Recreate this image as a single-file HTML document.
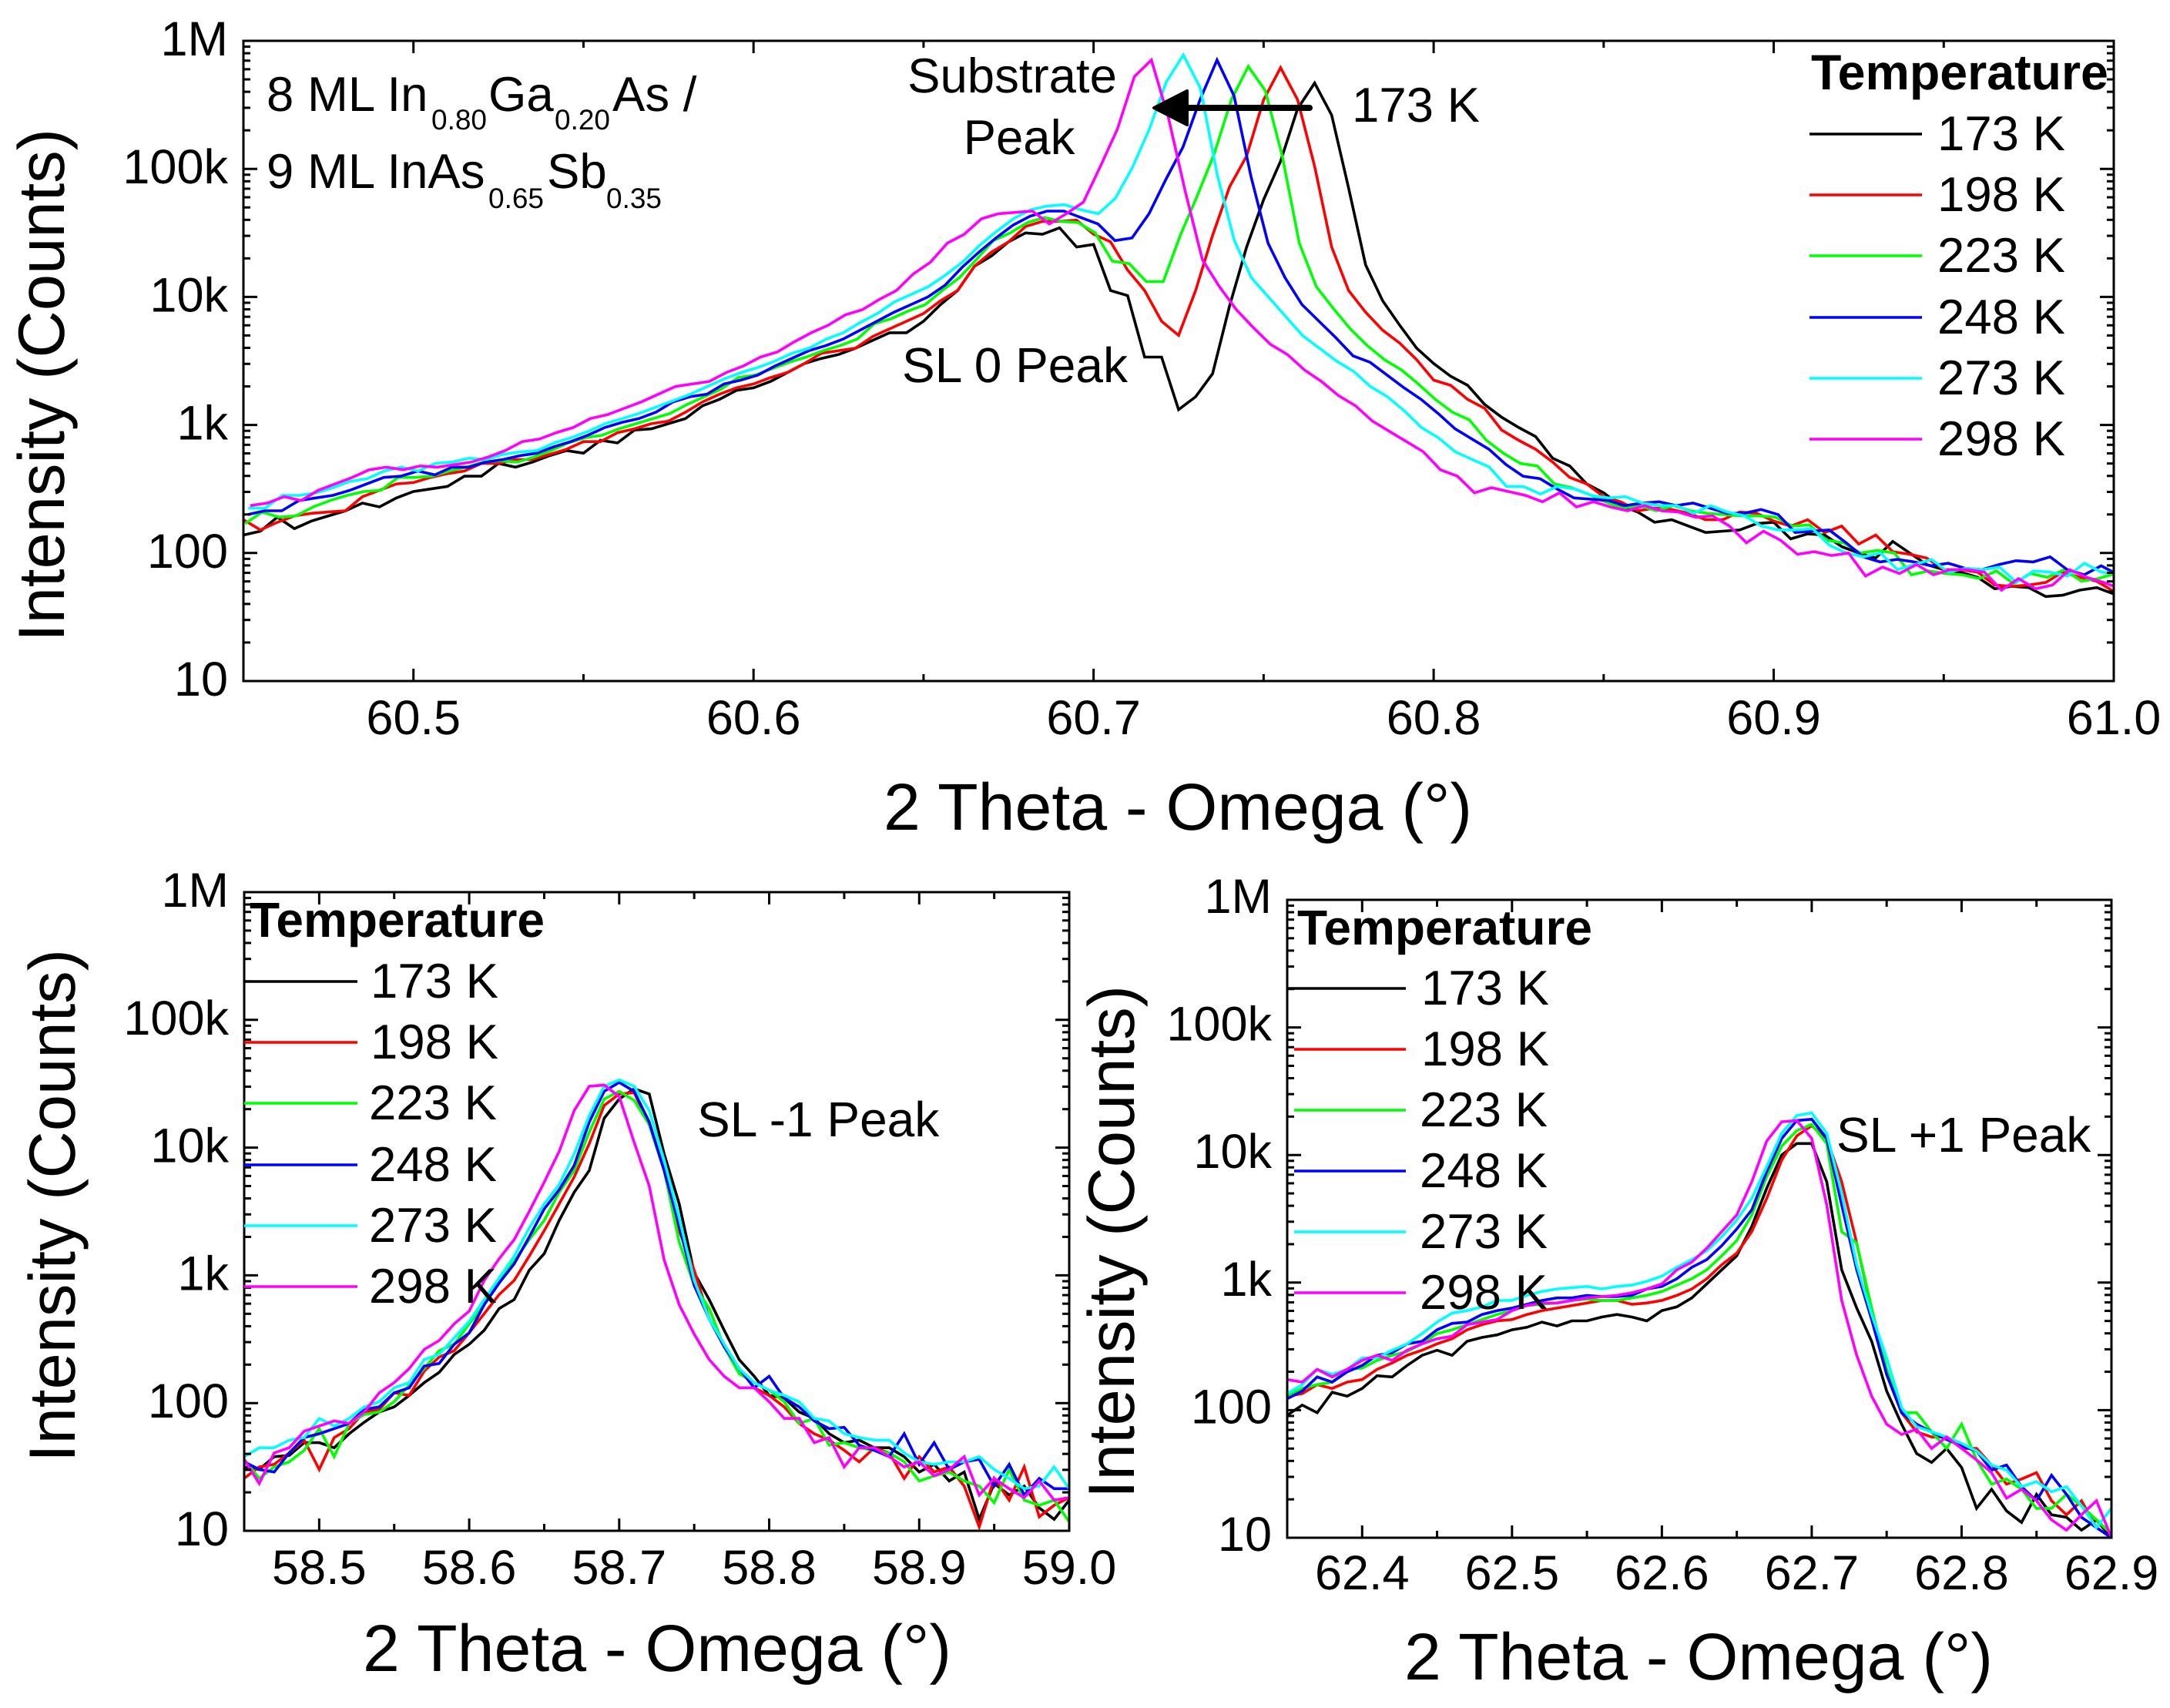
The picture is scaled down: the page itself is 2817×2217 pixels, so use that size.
<!DOCTYPE html>
<html>
<head>
<meta charset="utf-8">
<title>XRD temperature series</title>
<style>
html,body{margin:0;padding:0;background:#fff;}
svg{display:block;}
text{font-family:"Liberation Sans",Arial,sans-serif;fill:#000;text-rendering:geometricPrecision;}
.tick{font-size:63px;}
.title{font-size:86px;}
.ytitle{font-size:85px;}
.note{font-size:63.5px;}
.sub{font-size:37px;}
.legend-head{font-size:64.5px;font-weight:bold;}
</style>
</head>
<body>
<svg id="figure" xmlns="http://www.w3.org/2000/svg" width="2817" height="2217" viewBox="0 0 2817 2217">
<rect width="2817" height="2217" fill="#fff"/>
<defs>
<clipPath id="clip-top"><rect x="316" y="53" width="2428" height="831"/></clipPath>
<clipPath id="clip-left"><rect x="317" y="1158" width="1071" height="829"/></clipPath>
<clipPath id="clip-right"><rect x="1671" y="1168" width="1070" height="828"/></clipPath>
</defs>

<g id="panel-top">
<g id="marks-top" clip-path="url(#clip-top)"></g>
<g id="axes-top"></g>
<text class="ytitle" transform="translate(83 500) rotate(-90)" text-anchor="middle">Intensity (Counts)</text>
<text class="title" x="1529" y="1077" text-anchor="middle">2 Theta - Omega (°)</text>
<text class="note" y="144"><tspan x="346">8 ML In</tspan><tspan class="sub" x="560" y="168">0.80</tspan><tspan x="634" y="144">Ga</tspan><tspan class="sub" x="720" y="168">0.20</tspan><tspan x="795" y="144">As /</tspan></text>
<text class="note" y="244"><tspan x="346">9 ML InAs</tspan><tspan class="sub" x="634" y="270">0.65</tspan><tspan x="710" y="244">Sb</tspan><tspan class="sub" x="787" y="270">0.35</tspan></text>
<text class="note" x="1314" y="120" text-anchor="middle">Substrate</text>
<text class="note" x="1323" y="200" text-anchor="middle">Peak</text>
<text class="note" x="1171" y="496" style="font-size:64px">SL 0 Peak</text>
<text class="note" x="1755" y="158">173 K</text>
<g>
<line x1="1700" y1="140" x2="1535" y2="140" stroke="#000" stroke-width="8" stroke-linecap="round"/>
<polygon points="1498,140 1541,118 1541,162" fill="#000" stroke="#000" stroke-width="4" stroke-linejoin="round"/>
</g>
<g>
<text class="legend-head" x="2351" y="116">Temperature</text>
<line x1="2349" x2="2495" y1="174" y2="174" stroke="#000" stroke-width="3.5"/>
<text class="note" x="2515" y="195">173 K</text>
<line x1="2349" x2="2495" y1="253" y2="253" stroke="#f00" stroke-width="3.5"/>
<text class="note" x="2515" y="274">198 K</text>
<line x1="2349" x2="2495" y1="332" y2="332" stroke="#0f0" stroke-width="3.5"/>
<text class="note" x="2515" y="353">223 K</text>
<line x1="2349" x2="2495" y1="412" y2="412" stroke="#00f" stroke-width="3.5"/>
<text class="note" x="2515" y="433">248 K</text>
<line x1="2349" x2="2495" y1="491" y2="491" stroke="#0ff" stroke-width="3.5"/>
<text class="note" x="2515" y="512">273 K</text>
<line x1="2349" x2="2495" y1="570" y2="570" stroke="#f0f" stroke-width="3.5"/>
<text class="note" x="2515" y="591">298 K</text>
</g>
</g>

<g id="panel-left">
<g id="marks-left" clip-path="url(#clip-left)"></g>
<g id="axes-left"></g>
<text class="ytitle" transform="translate(97 1565) rotate(-90)" text-anchor="middle">Intensity (Counts)</text>
<text class="title" x="853" y="2169" text-anchor="middle">2 Theta - Omega (°)</text>
<text class="note" x="905" y="1475" style="font-size:64px">SL -1 Peak</text>
<g>
<text class="legend-head" x="324" y="1216" style="font-size:64px">Temperature</text>
<line x1="317" x2="464" y1="1274" y2="1274" stroke="#000" stroke-width="3.5"/>
<text class="note" x="481" y="1295">173 K</text>
<line x1="317" x2="464" y1="1353" y2="1353" stroke="#f00" stroke-width="3.5"/>
<text class="note" x="481" y="1374">198 K</text>
<line x1="317" x2="464" y1="1432" y2="1432" stroke="#0f0" stroke-width="3.5"/>
<text class="note" x="479" y="1453">223 K</text>
<line x1="317" x2="464" y1="1512" y2="1512" stroke="#00f" stroke-width="3.5"/>
<text class="note" x="479" y="1533">248 K</text>
<line x1="317" x2="464" y1="1591" y2="1591" stroke="#0ff" stroke-width="3.5"/>
<text class="note" x="479" y="1612">273 K</text>
<line x1="317" x2="464" y1="1670" y2="1670" stroke="#f0f" stroke-width="3.5"/>
<text class="note" x="479" y="1691">298 K</text>
</g>
</g>

<g id="panel-right">
<g id="marks-right" clip-path="url(#clip-right)"></g>
<g id="axes-right"></g>
<text class="ytitle" transform="translate(1472 1612) rotate(-90)" text-anchor="middle">Intensity (Counts)</text>
<text class="title" x="2205" y="2180" text-anchor="middle">2 Theta - Omega (°)</text>
<text class="note" x="2384" y="1495" style="font-size:64px">SL +1 Peak</text>
<g>
<text class="legend-head" x="1684" y="1226" style="font-size:64px">Temperature</text>
<line x1="1671" x2="1825" y1="1283" y2="1283" stroke="#000" stroke-width="3.5"/>
<text class="note" x="1845" y="1304">173 K</text>
<line x1="1680" x2="1825" y1="1362" y2="1362" stroke="#f00" stroke-width="3.5"/>
<text class="note" x="1845" y="1383">198 K</text>
<line x1="1680" x2="1825" y1="1441" y2="1441" stroke="#0f0" stroke-width="3.5"/>
<text class="note" x="1843" y="1462">223 K</text>
<line x1="1680" x2="1825" y1="1520" y2="1520" stroke="#00f" stroke-width="3.5"/>
<text class="note" x="1843" y="1541">248 K</text>
<line x1="1680" x2="1825" y1="1599" y2="1599" stroke="#0ff" stroke-width="3.5"/>
<text class="note" x="1843" y="1620">273 K</text>
<line x1="1680" x2="1825" y1="1678" y2="1678" stroke="#f0f" stroke-width="3.5"/>
<text class="note" x="1843" y="1699">298 K</text>
</g>
</g>
</svg>

<script>
// Series identity
const temperatures = ['173k','198k','223k','248k','273k','298k'];
const seriesColors = ['#000','#f00','#0f0','#00f','#0ff','#f0f'];

// Y axis: log10 intensity decades and their labels
const yDecades = [1,2,3,4,5,6];
const yTickLabels = ['10','100','1k','10k','100k','1M'];
const yMinorMultipliers = [2,3,4,5,6,7,8,9];

// X tick values in degrees
const topXMajor = [60.5,60.6,60.7,60.8,60.9,61.0];
const topXMinor = [60.55,60.65,60.75,60.85,60.95];
const topXLabels = ['60.5','60.6','60.7','60.8','60.9','61.0'];
const leftXMajor = [58.5,58.6,58.7,58.8,58.9,59.0];
const leftXMinor = [58.55,58.65,58.75,58.85,58.95];
const leftXLabels = ['58.5','58.6','58.7','58.8','58.9','59.0'];
const rightXMajor = [62.4,62.5,62.6,62.7,62.8,62.9];
const rightXMinor = [62.45,62.55,62.65,62.75,62.85];
const rightXLabels = ['62.4','62.5','62.6','62.7','62.8','62.9'];

// Scan start angle per series and scan step (degrees)
const topStarts = [60.45,60.45,60.4505,60.4513,60.4514,60.452];
const topStep = 0.005;
const leftStarts = [58.45,58.45,58.45,58.45,58.45,58.45];
const leftStep = 0.01;
const rightStarts = [62.35,62.35,62.35,62.35,62.35,62.35];
const rightStep = 0.01;

// log10(counts), top panel
const top173k = [2.14,2.17,2.28,2.19,2.25,2.29,2.33,2.39,2.36,2.43,2.48,2.50,2.52,2.60,2.60,2.70,2.67,2.71,2.76,2.80,2.78,2.88,2.86,2.96,2.97,3.01,3.05,3.15,3.20,3.27,3.29,3.34,3.41,3.48,3.52,3.55,3.60,3.66,3.72,3.72,3.81,3.94,4.05,4.24,4.32,4.43,4.50,4.49,4.54,4.39,4.41,4.05,4.01,3.53,3.53,3.12,3.22,3.40,3.93,4.39,4.76,5.06,5.47,5.67,5.42,4.85,4.25,3.97,3.78,3.60,3.48,3.38,3.31,3.16,3.06,2.98,2.91,2.74,2.68,2.54,2.47,2.37,2.32,2.24,2.26,2.21,2.16,2.17,2.18,2.23,2.24,2.11,2.15,2.14,2.05,2.00,1.96,2.09,2.00,1.91,1.87,1.85,1.81,1.72,1.74,1.73,1.66,1.67,1.71,1.73,1.68];
const top198k = [2.26,2.18,2.24,2.29,2.31,2.32,2.33,2.44,2.49,2.54,2.55,2.59,2.62,2.64,2.70,2.70,2.73,2.73,2.77,2.81,2.87,2.87,2.94,2.97,3.01,3.03,3.10,3.18,3.24,3.29,3.32,3.37,3.41,3.48,3.56,3.58,3.60,3.69,3.75,3.81,3.87,3.97,4.05,4.24,4.35,4.43,4.55,4.59,4.59,4.60,4.49,4.43,4.21,4.05,3.81,3.70,4.05,4.48,4.86,5.10,5.54,5.79,5.54,5.02,4.39,4.05,3.88,3.74,3.64,3.51,3.35,3.31,3.20,3.13,2.96,2.88,2.81,2.71,2.59,2.54,2.44,2.40,2.33,2.35,2.34,2.31,2.26,2.26,2.32,2.31,2.25,2.21,2.26,2.16,2.21,2.07,2.14,2.01,1.99,1.96,1.87,1.87,1.85,1.75,1.74,1.75,1.77,1.85,1.81,1.78,1.70];
const top223k = [2.23,2.32,2.28,2.29,2.36,2.41,2.45,2.48,2.49,2.59,2.59,2.60,2.64,2.67,2.71,2.72,2.71,2.75,2.80,2.86,2.90,2.92,2.97,3.01,3.05,3.09,3.16,3.22,3.28,3.37,3.39,3.44,3.49,3.53,3.58,3.62,3.67,3.79,3.83,3.89,3.94,4.05,4.15,4.29,4.44,4.50,4.58,4.62,4.59,4.58,4.50,4.28,4.26,4.12,4.12,4.48,4.79,5.12,5.54,5.80,5.61,5.10,4.42,4.08,3.91,3.75,3.62,3.51,3.43,3.32,3.20,3.10,3.04,2.88,2.78,2.70,2.68,2.54,2.51,2.46,2.40,2.35,2.37,2.33,2.37,2.33,2.31,2.30,2.29,2.29,2.28,2.21,2.22,2.10,2.08,2.00,2.02,2.00,1.83,1.86,1.84,1.83,1.80,1.86,1.76,1.84,1.81,1.87,1.78,1.80,1.84];
const top248k = [2.30,2.33,2.33,2.41,2.43,2.45,2.49,2.54,2.59,2.60,2.64,2.61,2.67,2.67,2.71,2.73,2.76,2.78,2.83,2.87,2.92,2.98,3.02,3.05,3.10,3.18,3.22,3.24,3.32,3.35,3.39,3.46,3.52,3.58,3.62,3.67,3.74,3.81,3.88,3.94,4.00,4.09,4.23,4.35,4.46,4.56,4.63,4.67,4.67,4.62,4.57,4.44,4.46,4.65,4.92,5.17,5.54,5.85,5.57,4.94,4.42,4.15,3.94,3.81,3.68,3.54,3.49,3.39,3.29,3.20,3.09,2.97,2.89,2.81,2.69,2.60,2.58,2.50,2.43,2.42,2.41,2.37,2.39,2.40,2.37,2.39,2.35,2.31,2.31,2.34,2.30,2.16,2.17,2.18,2.08,1.97,1.93,1.95,1.93,1.90,1.92,1.88,1.87,1.91,1.94,1.93,1.97,1.87,1.83,1.90,1.83];
const top273k = [2.35,2.35,2.45,2.45,2.47,2.51,2.56,2.58,2.64,2.67,2.64,2.70,2.71,2.74,2.73,2.77,2.79,2.80,2.86,2.90,2.95,3.01,3.05,3.09,3.14,3.19,3.24,3.30,3.36,3.41,3.45,3.50,3.56,3.60,3.67,3.72,3.80,3.87,3.96,4.02,4.08,4.17,4.27,4.40,4.51,4.61,4.68,4.71,4.72,4.68,4.65,4.77,5.01,5.31,5.68,5.89,5.63,4.95,4.44,4.15,4.00,3.85,3.70,3.60,3.50,3.42,3.30,3.22,3.11,2.98,2.90,2.79,2.73,2.67,2.52,2.52,2.46,2.52,2.50,2.45,2.43,2.44,2.39,2.37,2.37,2.31,2.37,2.32,2.29,2.21,2.18,2.18,2.19,2.06,2.00,1.97,2.00,1.87,1.91,1.95,1.85,1.88,1.87,1.89,1.77,1.86,1.85,1.82,1.92,1.85,1.84];
const top298k = [2.37,2.39,2.44,2.41,2.49,2.54,2.59,2.65,2.67,2.65,2.68,2.67,2.69,2.71,2.75,2.80,2.87,2.89,2.94,2.98,3.05,3.08,3.13,3.18,3.24,3.30,3.32,3.34,3.41,3.46,3.53,3.57,3.65,3.72,3.78,3.86,3.90,3.98,4.05,4.18,4.27,4.42,4.49,4.61,4.65,4.66,4.67,4.57,4.65,4.74,5.02,5.31,5.72,5.85,5.40,4.82,4.29,4.08,3.90,3.76,3.63,3.55,3.43,3.34,3.23,3.15,3.03,2.95,2.87,2.79,2.65,2.60,2.47,2.51,2.48,2.45,2.40,2.47,2.36,2.40,2.36,2.33,2.37,2.33,2.32,2.28,2.29,2.21,2.08,2.17,2.10,1.99,2.01,1.98,2.00,1.82,1.89,1.84,1.91,1.83,1.87,1.87,1.85,1.71,1.80,1.72,1.75,1.87,1.81,1.77,1.72];

// log10(counts), SL -1 panel
const left173k = [1.50,1.48,1.58,1.59,1.69,1.69,1.65,1.76,1.85,1.93,1.97,2.06,2.16,2.24,2.38,2.46,2.57,2.74,2.81,3.04,3.17,3.43,3.65,3.82,4.23,4.38,4.46,4.42,3.95,3.56,3.02,2.81,2.57,2.34,2.21,2.06,2.04,1.93,1.88,1.76,1.69,1.71,1.65,1.65,1.58,1.46,1.52,1.39,1.46,1.09,1.37,1.28,1.35,1.18,1.09,1.24];
const left198k = [1.41,1.50,1.52,1.61,1.71,1.48,1.73,1.80,1.93,1.95,2.08,2.06,2.25,2.36,2.41,2.55,2.70,2.85,2.96,3.15,3.35,3.56,3.77,4.03,4.33,4.42,4.43,4.18,3.82,3.35,3.04,2.66,2.46,2.27,2.12,2.06,1.97,1.84,1.76,1.71,1.63,1.54,1.65,1.61,1.41,1.58,1.46,1.50,1.35,1.03,1.41,1.24,1.50,1.11,1.20,1.26];
const left223k = [1.56,1.41,1.50,1.54,1.63,1.80,1.58,1.84,1.91,1.93,2.01,2.14,2.27,2.41,2.46,2.62,2.77,2.96,3.11,3.28,3.43,3.65,3.82,4.12,4.38,4.44,4.37,4.18,3.82,3.26,2.92,2.74,2.44,2.23,2.16,2.10,2.01,1.84,1.88,1.67,1.69,1.65,1.63,1.61,1.54,1.39,1.43,1.46,1.39,1.35,1.22,1.48,1.24,1.20,1.24,1.07];
const left248k = [1.54,1.48,1.46,1.61,1.73,1.76,1.80,1.84,1.95,1.97,2.08,2.12,2.29,2.31,2.46,2.55,2.77,2.94,3.09,3.30,3.52,3.67,3.86,4.20,4.44,4.51,4.44,4.20,3.82,3.39,2.92,2.66,2.44,2.27,2.12,2.21,2.04,1.97,1.86,1.80,1.81,1.67,1.63,1.58,1.76,1.52,1.69,1.48,1.54,1.56,1.35,1.52,1.28,1.41,1.33,1.33];
const left273k = [1.58,1.65,1.65,1.71,1.73,1.88,1.82,1.88,1.97,2.01,2.12,2.16,2.34,2.38,2.51,2.64,2.81,2.98,3.15,3.37,3.56,3.71,3.95,4.25,4.48,4.53,4.48,4.29,3.90,3.45,2.96,2.66,2.46,2.27,2.16,2.10,2.06,2.01,1.88,1.86,1.76,1.73,1.71,1.71,1.61,1.54,1.52,1.54,1.54,1.58,1.48,1.41,1.33,1.35,1.50,1.33];
const left298k = [1.56,1.37,1.61,1.65,1.78,1.82,1.86,1.84,1.93,2.08,2.16,2.27,2.42,2.49,2.62,2.72,2.96,3.13,3.28,3.50,3.73,3.97,4.29,4.48,4.49,4.40,4.04,3.70,3.12,2.77,2.54,2.34,2.21,2.12,2.12,2.01,1.88,1.88,1.69,1.73,1.50,1.65,1.65,1.58,1.50,1.54,1.43,1.48,1.58,1.28,1.41,1.33,1.26,1.39,1.24,1.26];

// log10(counts), SL +1 panel
const right173k = [1.96,2.04,1.98,2.14,2.11,2.17,2.27,2.26,2.35,2.43,2.47,2.43,2.54,2.57,2.59,2.63,2.65,2.69,2.66,2.70,2.70,2.73,2.75,2.73,2.70,2.78,2.81,2.88,2.99,3.10,3.21,3.44,3.74,4.00,4.09,4.09,3.79,3.10,2.80,2.54,2.15,1.89,1.66,1.59,1.70,1.55,1.23,1.38,1.21,1.12,1.34,1.18,1.16,1.06,1.14,1.00];
const right198k = [2.11,2.13,2.20,2.17,2.22,2.24,2.32,2.37,2.43,2.47,2.52,2.56,2.63,2.67,2.70,2.71,2.75,2.78,2.80,2.82,2.84,2.86,2.86,2.83,2.84,2.86,2.90,2.95,3.03,3.14,3.23,3.40,3.66,3.96,4.15,4.23,4.13,3.79,3.31,2.78,2.28,1.98,1.83,1.79,1.79,1.70,1.70,1.57,1.42,1.46,1.51,1.29,1.18,1.29,1.08,1.00];
const right223k = [2.11,2.17,2.20,2.22,2.32,2.33,2.39,2.43,2.46,2.52,2.60,2.63,2.67,2.71,2.75,2.78,2.82,2.83,2.84,2.86,2.87,2.86,2.86,2.88,2.90,2.93,2.98,3.03,3.10,3.21,3.33,3.53,3.83,4.07,4.19,4.24,4.09,3.40,3.31,2.80,2.32,1.98,1.98,1.83,1.70,1.89,1.61,1.42,1.46,1.38,1.23,1.23,1.34,1.25,1.14,1.03];
const right248k = [2.09,2.15,2.26,2.22,2.30,2.35,2.43,2.45,2.52,2.54,2.63,2.68,2.69,2.75,2.78,2.80,2.83,2.86,2.88,2.88,2.90,2.89,2.89,2.90,2.95,2.97,3.03,3.12,3.18,3.29,3.42,3.57,3.87,4.13,4.27,4.28,4.13,3.61,3.10,2.71,2.28,1.98,1.89,1.83,1.77,1.72,1.68,1.53,1.57,1.40,1.29,1.49,1.34,1.16,1.08,1.00];
const right273k = [2.13,2.20,2.32,2.28,2.32,2.41,2.41,2.47,2.52,2.60,2.69,2.76,2.78,2.81,2.86,2.86,2.90,2.93,2.95,2.96,2.97,2.95,2.97,2.98,3.01,3.05,3.12,3.18,3.25,3.36,3.49,3.66,3.91,4.17,4.31,4.33,4.17,3.70,3.14,2.75,2.41,2.02,1.87,1.83,1.79,1.74,1.68,1.57,1.53,1.40,1.44,1.36,1.40,1.25,1.08,1.23];
const right298k = [2.24,2.22,2.32,2.26,2.32,2.39,2.43,2.39,2.47,2.52,2.56,2.58,2.67,2.69,2.71,2.78,2.82,2.84,2.84,2.86,2.88,2.89,2.90,2.92,2.95,2.99,3.10,3.16,3.27,3.40,3.53,3.79,4.11,4.26,4.27,4.13,3.61,2.86,2.43,2.11,1.89,1.81,1.85,1.70,1.79,1.70,1.61,1.51,1.31,1.38,1.29,1.14,1.06,1.18,1.29,1.00];

const panels = [
  {key:'top', left:316, right:2744, top:53, bottom:884, xMin:60.45, xMax:61.0, xMajor:topXMajor, xMinor:topXMinor, xLabels:topXLabels, starts:topStarts, step:topStep, series:[top173k,top198k,top223k,top248k,top273k,top298k], xLabelY:953, yLabelRight:296, yLabelDrop:19, stroke:3.6},
  {key:'left', left:317, right:1388, top:1158, bottom:1987, xMin:58.45, xMax:59.0, xMajor:leftXMajor, xMinor:leftXMinor, xLabels:leftXLabels, starts:leftStarts, step:leftStep, series:[left173k,left198k,left223k,left248k,left273k,left298k], xLabelY:2056, yLabelRight:297, yLabelDrop:19, stroke:3.6},
  {key:'right', left:1671, right:2741, top:1168, bottom:1996, xMin:62.35, xMax:62.9, xMajor:rightXMajor, xMinor:rightXMinor, xLabels:rightXLabels, starts:rightStarts, step:rightStep, series:[right173k,right198k,right223k,right248k,right273k,right298k], xLabelY:2063, yLabelRight:1651, yLabelDrop:17, stroke:3.6}
];

const SVG_NS = 'http://www.w3.org/2000/svg';
function make(tag, attrs, parent) {
  const el = document.createElementNS(SVG_NS, tag);
  for (const k in attrs) el.setAttribute(k, attrs[k]);
  parent.appendChild(el);
  return el;
}

panels.forEach(function (p) {
  const xScale = function (deg) { return p.left + (deg - p.xMin) / (p.xMax - p.xMin) * (p.right - p.left); };
  const yScale = function (logCounts) { return p.bottom - (logCounts - 1) / 5 * (p.bottom - p.top); };
  const marks = document.getElementById('marks-' + p.key);
  const axes = document.getElementById('axes-' + p.key);

  p.series.forEach(function (values, s) {
    const pts = values.map(function (v, i) {
      return xScale(p.starts[s] + i * p.step).toFixed(1) + ',' + yScale(v).toFixed(1);
    }).join(' ');
    const line = make('polyline', {points: pts, fill: 'none', stroke: seriesColors[s], 'stroke-width': p.stroke, 'stroke-linejoin': 'miter'}, marks);
    
    
  });

  const frame = make('rect', {x: p.left, y: p.top, width: p.right - p.left, height: p.bottom - p.top, fill: 'none', stroke: '#000', 'stroke-width': 3}, axes);
  
  

  p.xMajor.forEach(function (deg, i) {
    const x = xScale(deg);
    [[p.bottom, -16], [p.top, 16]].forEach(function (edge) {
      const tick = make('line', {x1: x, x2: x, y1: edge[0], y2: edge[0] + edge[1], stroke: '#000', 'stroke-width': 3}, axes);
      
      
    });
    const label = make('text', {x: x, y: p.xLabelY, 'text-anchor': 'middle', 'class': 'tick'}, axes);
    label.textContent = p.xLabels[i];
    
    
  });
  p.xMinor.forEach(function (deg) {
    const x = xScale(deg);
    [[p.bottom, -9], [p.top, 9]].forEach(function (edge) {
      const tick = make('line', {x1: x, x2: x, y1: edge[0], y2: edge[0] + edge[1], stroke: '#000', 'stroke-width': 3}, axes);
      
      
    });
  });

  yDecades.forEach(function (decade, i) {
    const y = yScale(decade);
    [[p.left, 18], [p.right, -18]].forEach(function (edge) {
      const tick = make('line', {x1: edge[0], x2: edge[0] + edge[1], y1: y, y2: y, stroke: '#000', 'stroke-width': 3}, axes);
      
      
    });
    const label = make('text', {x: p.yLabelRight, y: y + p.yLabelDrop, 'text-anchor': 'end', 'class': 'tick'}, axes);
    label.textContent = yTickLabels[i];
    
    
    if (decade < 6) {
      yMinorMultipliers.forEach(function (m) {
        const yMinor = yScale(decade + Math.log10(m));
        [[p.left, 9], [p.right, -9]].forEach(function (edge) {
          const tick = make('line', {x1: edge[0], x2: edge[0] + edge[1], y1: yMinor, y2: yMinor, stroke: '#000', 'stroke-width': 3}, axes);
          
          
        });
      });
    }
  });
});
</script>
</body>
</html>
